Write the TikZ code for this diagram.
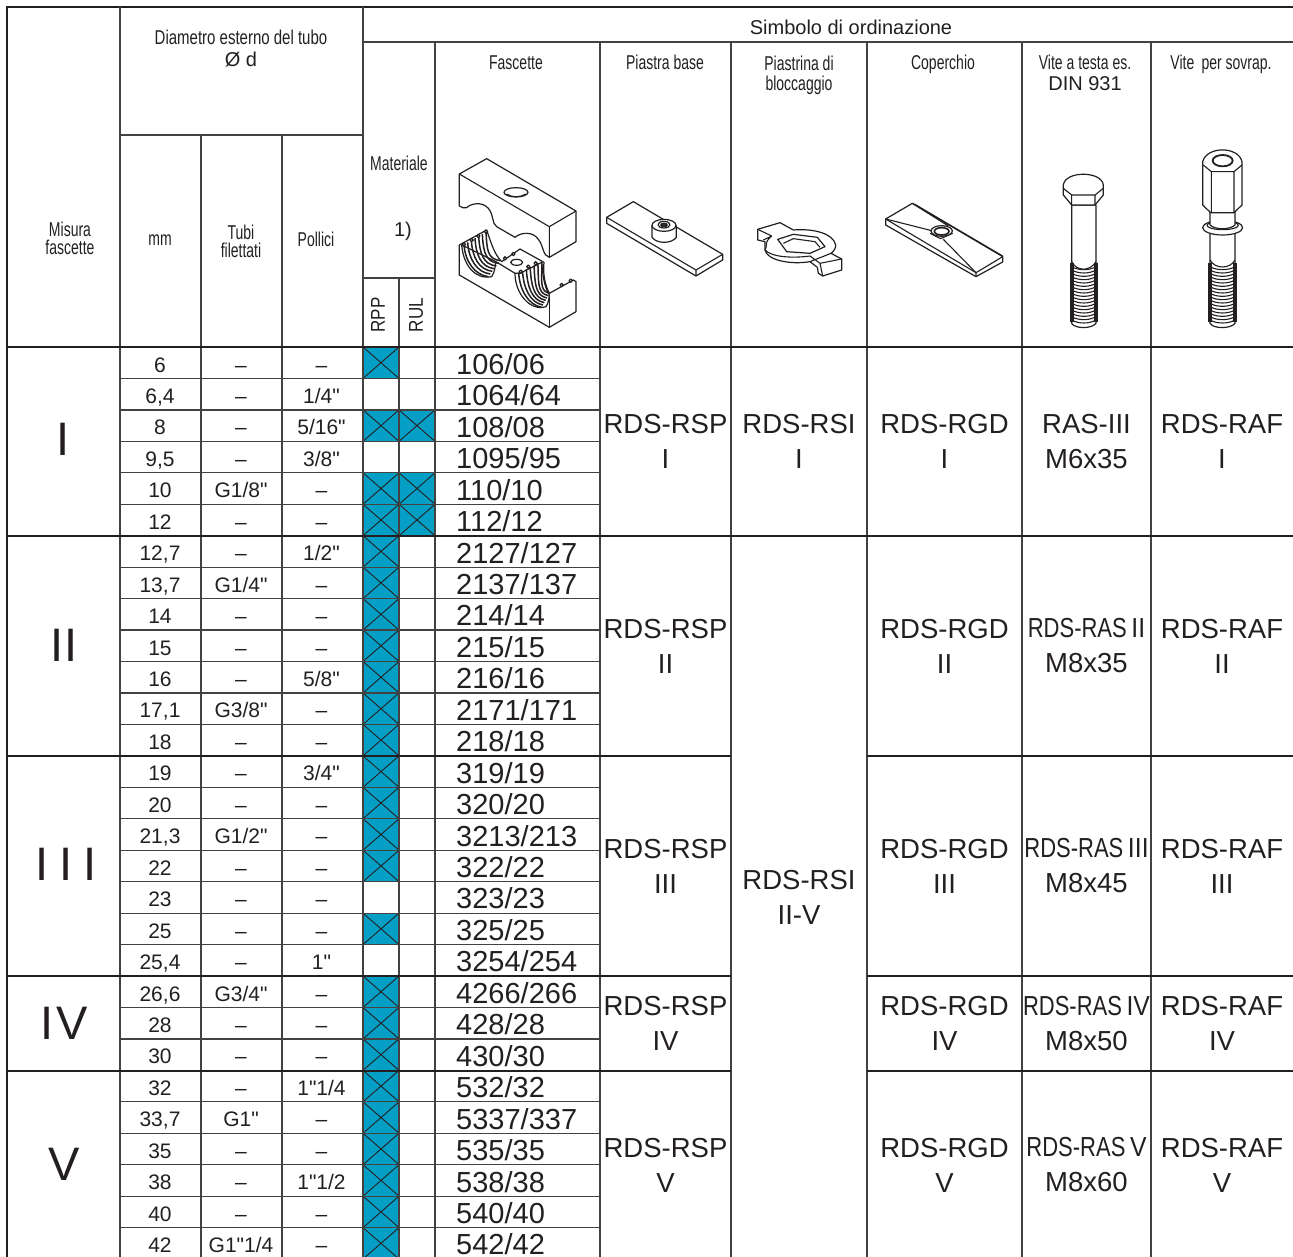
\documentclass[tikz,border=0pt]{standalone}
\usepackage{fontspec}
\setmainfont[Ligatures=TeXOff]{Liberation Sans}
\newfontfamily\narrowfont[FakeStretch=0.70]{Liberation Sans}
\newfontfamily\diafont[FakeStretch=0.75]{Liberation Sans}
\newfontfamily\rasfont[FakeStretch=0.80]{Liberation Sans}
\newfontfamily\rasnumfont[FakeStretch=0.90]{Liberation Sans}
\newfontfamily\midfont[FakeStretch=0.85]{Liberation Sans}
\definecolor{inkcol}{HTML}{231F20}
\definecolor{cellblue}{HTML}{059FC6}

\tikzstyle{thinline} = [draw=inkcol!85, line width=1.2pt]
\tikzstyle{heavyline} = [draw=inkcol, line width=2.8pt]
\tikzstyle{crossline} = [draw=inkcol, line width=0.9pt, fill=cellblue]
\tikzstyle{part} = [draw=inkcol, line width=1.2pt, fill=white, line join=round]
\tikzstyle{partline} = [draw=inkcol, line width=1.1pt, line join=round]
\tikzstyle{ribline} = [draw=inkcol, line width=1.5pt, line join=round]
\tikzstyle{headtext} = [inner sep=0pt, align=center, text=inkcol, font=\narrowfont\fontsize{20}{20}\selectfont]
\tikzstyle{basehead} = [headtext, anchor=base]
\tikzstyle{plaintext} = [inner sep=0pt, align=center, text=inkcol, font=\fontsize{20}{20}\selectfont]
\tikzstyle{rownum} = [anchor=base, inner sep=0pt, text=inkcol, font=\fontsize{21}{21}\selectfont]
\tikzstyle{codenum} = [anchor=base west, inner sep=0pt, text=inkcol, font=\fontsize{29}{29}\selectfont]
\tikzstyle{bandtext} = [inner sep=0pt, align=center, text=inkcol, font=\fontsize{27.5}{35}\selectfont]
\tikzstyle{sizemark} = [inner sep=0pt, text=inkcol, font=\fontsize{47}{47}\selectfont]

\newcommand{\crosscell}[2]{\draw [crossline] (#1,#2) rectangle ++(36,31.45); \draw [crossline] (#1,#2) -- ++(36,31.45) (#1+36,#2) -- ++(-36,31.45);}
\newcommand{\rasname}[1]{{\rasfont RDS-RAS}\,{\rasnumfont #1}}
\newcommand{\threadlines}[2]{%
\foreach \ty in {410,420,...,570} {\draw [partline, line width=1.1pt] (#1,\ty) .. controls (#1+20,\ty+12) and (#2-20,\ty+12) .. (#2,\ty);}
\draw [partline, line width=4pt] (#1,398) -- (#1,575) (#2,398) -- (#2,575);}

\begin{document}
\begin{tikzpicture}[x=1pt, y=-1pt]
\useasboundingbox (0,0) rectangle (1293,1257);
\clip (0,0) rectangle (1293,1257);

%Rows
\foreach \mm/\tubi/\poll/\code/\rpp/\rul [count=\r from 0] in {
6/–/–/{106/06}/1/0,
{6,4}/–/{1/4"}/{1064/64}/0/0,
8/–/{5/16"}/{108/08}/1/1,
{9,5}/–/{3/8"}/{1095/95}/0/0,
10/{G1/8"}/–/{110/10}/1/1,
12/–/–/{112/12}/1/1,
{12,7}/–/{1/2"}/{2127/127}/1/0,
{13,7}/{G1/4"}/–/{2137/137}/1/0,
14/–/–/{214/14}/1/0,
15/–/–/{215/15}/1/0,
16/–/{5/8"}/{216/16}/1/0,
{17,1}/{G3/8"}/–/{2171/171}/1/0,
18/–/–/{218/18}/1/0,
19/–/{3/4"}/{319/19}/1/0,
20/–/–/{320/20}/1/0,
{21,3}/{G1/2"}/–/{3213/213}/1/0,
22/–/–/{322/22}/1/0,
23/–/–/{323/23}/0/0,
25/–/–/{325/25}/1/0,
{25,4}/–/{1"}/{3254/254}/0/0,
{26,6}/{G3/4"}/–/{4266/266}/1/0,
28/–/–/{428/28}/1/0,
30/–/–/{430/30}/1/0,
32/–/{1"1/4}/{532/32}/1/0,
{33,7}/{G1"}/–/{5337/337}/1/0,
35/–/–/{535/35}/1/0,
38/–/{1"1/2}/{538/38}/1/0,
40/–/–/{540/40}/1/0,
42/{G1"1/4}/–/{542/42}/1/0} {
\pgfmathsetmacro\rowy{347+31.45*\r}
\pgfmathsetmacro\texty{\rowy+25}
\pgfmathsetmacro\codey{\rowy+27.3}
\ifnum\rpp=1 \crosscell{363}{\rowy}\fi
\ifnum\rul=1 \crosscell{399}{\rowy}\fi
\draw [thinline] (120,\rowy) -- (600,\rowy);
\node (mm\r) [rownum] at (160,\texty) {\mm};
\node (tubi\r) [rownum] at (241,\texty) {\tubi};
\node (poll\r) [rownum] at (321.5,\texty) {\poll};
\node (code\r) [codenum] at (456,\codey) {\code};
}

%Grid
\draw [heavyline] (7,1257) -- (7,7) -- (1293,7);
\draw [thinline] (363,42) -- (1293,42);
\draw [thinline] (120,135) -- (363,135);
\draw [thinline] (363,278) -- (435,278);
\draw [thinline] (120,7) -- (120,1257);
\draw [thinline] (363,7) -- (363,1257);
\foreach \colx in {201,282} {\draw [thinline] (\colx,135) -- (\colx,1257);}
\draw [thinline] (399,278) -- (399,1257);
\foreach \colx in {435,600,867,1022,1151} {\draw [thinline] (\colx,42) -- (\colx,1257);}
\draw [thinline, line width=1.7pt] (731,42) -- (731,1257);
\draw [heavyline] (7,347) -- (1293,347);
\draw [heavyline] (7,536) -- (1293,536);
\foreach \rowy in {756,976,1071} {\draw [heavyline] (7,\rowy) -- (731,\rowy) (867,\rowy) -- (1293,\rowy);}

%Header
\node (symhead) [plaintext] at (851,27) {Simbolo di ordinazione};
\node (diahead) [headtext, font=\diafont\fontsize{20}{20}\selectfont] at (241,37) {Diametro esterno del tubo};
\node (diamark) [plaintext, below of=diahead, node distance=23pt] {Ø d};
\node (sizehead) [headtext, font=\narrowfont\fontsize{20}{18}\selectfont] at (70,238) {Misura\\fascette};
\node (mmhead) [headtext] at (160,240) {mm};
\node (tubihead) [headtext, font=\narrowfont\fontsize{20}{18}\selectfont] at (241,241) {Tubi\\filettati};
\node (pollhead) [headtext] at (316,239) {Pollici};
\node (mathead) [headtext] at (399,163) {Materiale};
\node (matnote) [plaintext] at (403,231) {1)};
\node (rpphead) [plaintext, rotate=90, font=\midfont\fontsize{20}{20}\selectfont] at (378,315) {RPP};
\node (rulhead) [plaintext, rotate=90, font=\midfont\fontsize{20}{20}\selectfont] at (416,315) {RUL};
\node (clamphead) [basehead] at (516,70) {Fascette};
\node (platehead) [basehead] at (665,70) {Piastra base};
\node (lockhead) [headtext] at (799,75) {Piastrina di\\bloccaggio};
\node (coverhead) [basehead] at (943,70) {Coperchio};
\node (bolthead) [basehead] at (1085,70) {Vite a testa es.};
\node (dinhead) [plaintext] at (1085,84) {DIN 931};
\node (stackhead) [basehead] at (1221,70) {Vite\, per sovrap.};

%Sizes
\node (sizeI) [sizemark] at (63,439) {I};
\node (sizeII) [sizemark] at (64,645) {II};
\node (sizeIII) [sizemark] at (66,864) {I\hspace{11pt}I\hspace{11pt}I};
\node (sizeIV) [sizemark] at (64,1023) {I\hspace{3pt}V};
\node (sizeV) [sizemark] at (64,1164) {V};

%Bands
\foreach \tag/\midy in {I/441.5, II/646, III/866, IV/1023.5, V/1165} {
\node (rsp\tag) [bandtext] at (665.5,\midy) {RDS-RSP\\\tag};
\node (rgd\tag) [bandtext] at (944.5,\midy) {RDS-RGD\\\tag};
\node (raf\tag) [bandtext] at (1222,\midy) {RDS-RAF\\\tag};
}
\node (rsiI) [bandtext] at (799,441.5) {RDS-RSI\\I};
\node (rsiII) [bandtext] at (799,897) {RDS-RSI\\II-V};
\node (rasI) [bandtext] at (1086.5,441.5) {RAS-III\\M6x35};
\node (rasII) [bandtext] at (1086.5,646) {\rasname{II}\\M8x35};
\node (rasIII) [bandtext] at (1086.5,866) {\rasname{III}\\M8x45};
\node (rasIV) [bandtext] at (1086.5,1023.5) {\rasname{IV}\\M8x50};
\node (rasV) [bandtext] at (1086.5,1165) {\rasname{V}\\M8x60};

%Clamp and base plate
\begin{scope}[shift={(360,130)}, scale=1/3]
\draw [part] (298,132) -- (380,86) -- (648,243) -- (648,335) -- (568,382) .. controls (548,378) and (550,345) .. (535,328) .. controls (520,305) and (485,305) .. (465,322) -- (410,290) .. controls (395,280) and (402,255) .. (385,235) .. controls (365,212) and (330,222) .. (320,233) .. controls (312,236) and (305,232) .. (298,228) -- cycle;
\draw [partline] (298,132) -- (568,290) -- (648,243) (568,290) -- (568,382);
\draw [part] (468,187) ellipse [x radius=36, y radius=14];
\draw [partline] (440,192) .. controls (455,203) and (482,203) .. (497,192);
\draw [part] (298,345) -- (380,300) .. controls (395,345) and (405,375) .. (425,395) -- (480,357) -- (552,397) .. controls (548,430) and (555,465) .. (568,490) -- (640,450) -- (648,455) -- (648,545) -- (568,592) -- (298,435) -- cycle;
\draw [partline] (568,497) -- (568,592);
\draw [part] (470,397) ellipse [x radius=18, y radius=9];
\draw [part] (305,345) .. controls (310,405) and (345,450) .. (395,440) .. controls (405,425) and (405,410) .. (408,395) -- (465,430) .. controls (465,490) and (510,545) .. (558,530) .. controls (565,520) and (566,510) .. (568,495) .. controls (552,470) and (548,430) .. (545,397) -- (480,430) -- (465,430) -- (408,395) -- cycle;
\foreach \d in {0,0.5,...,3} {
\draw [ribline] (312+22*\d,343-12.5*\d) .. controls (315+22*\d,395-12.5*\d) and (345+12*\d,435-16*\d) .. (385+12*\d,440-16*\d);
}
\foreach \d in {0,0.5,...,3} {
\draw [ribline] (476+23*\d,428-11*\d) .. controls (479+23*\d,480-11*\d) and (505+10*\d,525-14*\d) .. (545+8*\d,532-14*\d);
}
\foreach \px/\py in {312/343,335/330,355/318,378/305,435/385,460/372,482/425,505/410,527/400,605/465,632/452} {\draw [part] (\px,\py) circle [radius=5];}
\draw [part] (740,262) -- (820,215) -- (1088,373) -- (1088,390) -- (1008,438) -- (740,280) -- cycle;
\draw [partline] (740,262) -- (1008,420) -- (1088,373) (1008,420) -- (1008,438);
\draw [part] (876,286) -- (876,322) .. controls (890,342) and (935,342) .. (949,322) -- (949,286);
\draw [part] (912,286) ellipse [x radius=36, y radius=18];
\draw [part] (912,284) ellipse [x radius=18, y radius=10];
\draw [partline, line width=2pt] (912,285) ellipse [x radius=9, y radius=4];
\end{scope}

%Lock plate and cover
\begin{scope}[shift={(730,130)}, scale=1/3]
\draw [part] (83,298) -- (150,278) -- (190,300) .. controls (250,295) and (310,310) .. (317,345) .. controls (318,355) and (310,365) .. (303,370) -- (335,387) -- (335,420) -- (278,438) -- (265,430) -- (262,412) -- (240,395) .. controls (180,405) and (110,390) .. (105,360) -- (105,335) -- (83,330) -- cycle;
\draw [partline] (83,298) -- (125,318) -- (100,330) (105,360) .. controls (115,340) and (100,340) .. (125,318);
\draw [partline] (240,395) -- (303,370) (105,360) .. controls (125,382) and (190,385) .. (240,378) -- (270,400) -- (278,438) (270,400) -- (335,387);
\draw [part] (143,328) -- (190,313) -- (262,322) -- (285,350) -- (240,370) -- (170,365) -- cycle;
\draw [partline] (160,340) -- (190,326) -- (255,335) -- (270,352);
\draw [part] (467,267) -- (547,220) -- (818,380) -- (818,396) -- (738,440) -- (467,285) -- cycle;
\draw [partline] (467,267) -- (738,428) -- (818,380) (738,428) -- (738,440);
\draw [partline] (467,267) -- (605,302) (547,220) -- (655,288) (640,328) -- (738,428) (600,310) -- (632,326) -- (668,310);
\draw [partline] (553,222) -- (818,378);
\draw [part] (635,303) ellipse [x radius=32, y radius=16];
\draw [partline, line width=1.6pt] (635,304) ellipse [x radius=22, y radius=11];
\end{scope}

%Bolts
\begin{scope}[shift={(1020,130)}, scale=1/3]
\draw [part] (155,225) -- (155,580) .. controls (165,597) and (215,597) .. (228,580) -- (228,225) -- cycle;
\threadlines{155}{228}
\draw [part] (130,165) -- (130,195) -- (155,225) -- (225,225) -- (250,195) -- (250,165) .. controls (245,122) and (135,122) .. (130,165) -- cycle;
\draw [partline] (155,195) -- (155,225) (225,195) -- (225,225) (130,175) -- (155,195) -- (225,195) -- (250,175);
\draw [partline] (155,395) .. controls (170,425) and (210,425) .. (228,395);
\draw [part] (570,300) -- (570,580) .. controls (580,597) and (632,597) .. (645,580) -- (645,300) -- cycle;
\threadlines{570}{645}
\draw [partline] (570,390) .. controls (585,418) and (630,418) .. (645,390);
\draw [part] (608,293) ellipse [x radius=60, y radius=22];
\draw [partline] (608,286) ellipse [x radius=47, y radius=13];
\draw [part] (570,240) -- (570,285) .. controls (585,300) and (630,300) .. (645,285) -- (645,240) -- cycle;
\draw [part] (548,95) -- (548,225) -- (572,248) -- (642,248) -- (666,225) -- (666,95) .. controls (655,48) and (560,48) .. (548,95) -- cycle;
\draw [partline] (574,125) -- (574,248) (642,125) -- (642,248) (550,105) -- (574,125) -- (642,125) -- (666,105);
\draw [part, line width=1.8pt] (608,92) ellipse [x radius=30, y radius=17];
\end{scope}
\end{tikzpicture}
\end{document}
